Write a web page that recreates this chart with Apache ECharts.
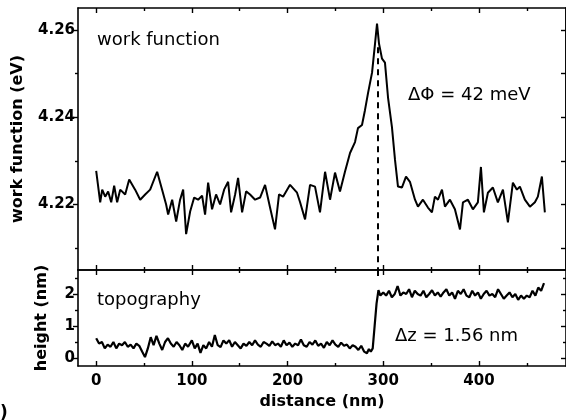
<!DOCTYPE html>
<html>
<head>
<meta charset="utf-8">
<script src="https://cdn.jsdelivr.net/npm/echarts@6/dist/echarts.min.js"></script>
<style>
  html, body { margin: 0; padding: 0; background: #fff; }
  #chart { width: 566px; height: 420px; }
</style>
</head>
<body>
<div id="chart"></div>
<script>
// work function profile (distance in nm, value in eV)
const wfDistance = [0, 4.2, 6.3, 9.4, 12.5, 15.7, 18.8, 21.9, 25.1, 30.3, 34.5, 40.7, 46, 51.2, 56.4, 63.7, 68.9, 73.1, 75.2, 79.4,
  83.6, 87.7, 90.9, 94, 98.2, 102.4, 106.5, 110.7, 113.8, 117, 121.1, 125.3, 129.5, 133.7, 137.9, 141, 145.2, 148.3, 152.5, 156.7,
  160.8, 166.1, 171.3, 176.5, 181.7, 186.9, 191.1, 195.3, 202.6, 209.9, 213.1, 218.3, 223.5, 228.7, 233.9, 239.2, 244.4, 249.6,
  254.8, 260, 265.3, 270.5, 273.6, 277.8, 280.9, 284.1, 288.3, 291.4, 293.5, 295.6, 298.7, 301.8, 305, 309.1, 312.3, 315.4, 319.6,
  323.8, 327.9, 333.2, 336.3, 341.5, 346.7, 350.9, 354, 357.2, 361.4, 364.5, 369.7, 374.9, 380.2, 383.3, 388.5, 393.7, 398.9,
  402.1, 405.2, 409.4, 414.6, 419.8, 425.1, 430.3, 435.5, 439.7, 442.8, 448, 453.3, 458.5, 461.6, 465.8, 468.9];
const workFunction = [4.2277, 4.2205, 4.2234, 4.2218, 4.2230, 4.2205, 4.2243, 4.2205, 4.2234, 4.2223, 4.2257, 4.2234, 4.2211, 4.2223,
  4.2234, 4.2275, 4.2234, 4.2200, 4.2177, 4.2211, 4.2161, 4.2211, 4.2234, 4.2132, 4.2184, 4.2216, 4.2211, 4.2220, 4.2177, 4.2250,
  4.2189, 4.2223, 4.2200, 4.2234, 4.2252, 4.2182, 4.2223, 4.2261, 4.2182, 4.2230, 4.2223, 4.2211, 4.2216, 4.2245, 4.2193, 4.2143,
  4.2223, 4.2218, 4.2245, 4.2227, 4.2205, 4.2166, 4.2245, 4.2241, 4.2182, 4.2275, 4.2211, 4.2273, 4.2230, 4.2275, 4.2318, 4.2343,
  4.2375, 4.2382, 4.2416, 4.2455, 4.2502, 4.2568, 4.2614, 4.2568, 4.2534, 4.2525, 4.2445, 4.2377, 4.2302, 4.2241, 4.2239, 4.2264,
  4.2252, 4.2211, 4.2195, 4.2211, 4.2193, 4.2182, 4.2218, 4.2211, 4.2234, 4.2195, 4.2211, 4.2189, 4.2143, 4.2205, 4.2211, 4.2189,
  4.2205, 4.2286, 4.2182, 4.2227, 4.2239, 4.2205, 4.2234, 4.2159, 4.2250, 4.2234, 4.2241, 4.2211, 4.2195, 4.2205, 4.2218, 4.2264,
  4.2182];

// topography profile (distance in nm, height in nm)
const topoDistance = [0, 3, 6, 9, 12, 15, 18, 21, 24, 27, 30, 33, 36, 39, 42, 45, 48, 51, 54, 57, 60, 63, 66, 69, 72, 75, 78, 81,
  84, 87, 90, 93, 96, 100, 103, 106, 109, 112, 115, 118, 121, 124, 127, 130, 133, 136, 139, 142, 145, 148, 151, 154, 157, 160,
  163, 166, 169, 172, 175, 178, 181, 184, 187, 190, 193, 196, 199, 202, 205, 208, 211, 214, 217, 220, 223, 226, 229, 232, 235,
  238, 241, 244, 247, 250, 253, 256, 259, 262, 265, 268, 271, 274, 277, 280, 283, 285, 287, 289, 291, 293, 295, 297, 300, 303,
  306, 309, 312, 315, 318, 321, 324, 327, 330, 333, 336, 339, 342, 345, 348, 351, 354, 357, 360, 363, 366, 369, 372, 375, 378,
  381, 384, 387, 390, 393, 396, 399, 402, 405, 408, 411, 414, 417, 420, 423, 426, 429, 432, 435, 438, 441, 444, 447, 450, 453,
  456, 459, 462, 465, 468];
const height = [0.62, 0.45, 0.5, 0.3, 0.42, 0.35, 0.5, 0.3, 0.45, 0.4, 0.5, 0.35, 0.42, 0.3, 0.45, 0.38, 0.2, 0.03, 0.3, 0.65,
  0.4, 0.69, 0.45, 0.25, 0.5, 0.62, 0.45, 0.35, 0.5, 0.4, 0.25, 0.45, 0.35, 0.55, 0.3, 0.45, 0.16, 0.4, 0.3, 0.5, 0.35, 0.72,
  0.4, 0.34, 0.55, 0.45, 0.56, 0.35, 0.5, 0.4, 0.3, 0.45, 0.38, 0.5, 0.4, 0.55, 0.42, 0.35, 0.5, 0.45, 0.38, 0.52, 0.4, 0.45,
  0.35, 0.55, 0.4, 0.48, 0.35, 0.45, 0.4, 0.58, 0.4, 0.35, 0.5, 0.42, 0.55, 0.38, 0.45, 0.32, 0.5, 0.4, 0.55, 0.42, 0.35, 0.48,
  0.38, 0.42, 0.3, 0.4, 0.35, 0.25, 0.38, 0.2, 0.15, 0.28, 0.2, 0.3, 1.0, 1.7, 2.12, 1.95, 2.05, 1.95, 2.1, 1.9, 2.0, 2.25, 1.95,
  2.05, 2.0, 2.15, 1.9, 2.1, 2.0, 1.95, 2.1, 1.9, 2.0, 2.12, 1.95, 2.05, 1.92, 2.05, 2.15, 1.95, 2.05, 1.85, 2.1, 2.0, 2.15, 1.95,
  1.9, 2.1, 1.95, 2.05, 1.85, 2.0, 2.1, 1.95, 2.0, 1.9, 2.15, 2.0, 1.85, 1.95, 2.05, 1.9, 2.0, 1.82, 1.95, 1.85, 1.95, 1.9, 2.1,
  1.95, 2.2, 2.1, 2.34, 2.2];

// tick labels
const xMajor = [0, 100, 200, 300, 400];
const xMinor = [50, 150, 250, 350, 450];
const wfMajor = [4.22, 4.24, 4.26];
const wfMinor = [4.21, 4.23, 4.25];
const hMajor = [0, 1, 2];
const hMinor = [0.5, 1.5, 2.5];
const stepPosition = 294.5;

const FONT = 'DejaVu Sans';
const lineCol = '#000';

function xAx(grid, pos, ticks, len, withLabels) {
  const ax = {
    type: 'value', gridIndex: grid, position: pos, min: -19, max: 491,
    axisLine: { show: len > 3, onZero: false, lineStyle: { color: lineCol, width: 1.6 } },
    axisTick: { show: true, inside: true, length: len, customValues: ticks, lineStyle: { color: lineCol, width: 1.4 } },
    axisLabel: { show: false },
    splitLine: { show: false }
  };
  if (withLabels) {
    ax.axisLabel = { show: true, customValues: ticks, margin: 8, color: '#000', fontFamily: FONT, fontWeight: 'bold', fontSize: 15 };
    ax.name = 'distance (nm)';
    ax.nameLocation = 'middle';
    ax.nameGap = 28;
    ax.nameTextStyle = { color: '#000', fontFamily: FONT, fontWeight: 'bold', fontSize: 16 };
  }
  return ax;
}

function yAx(grid, pos, min, max, ticks, len, label) {
  const ax = {
    type: 'value', gridIndex: grid, position: pos, min: min, max: max,
    axisLine: { show: len > 3, onZero: false, lineStyle: { color: lineCol, width: 1.6 } },
    axisTick: { show: true, inside: pos === 'right', length: len, customValues: ticks, lineStyle: { color: lineCol, width: 1.4 } },
    axisLabel: { show: false },
    splitLine: { show: false }
  };
  if (label) {
    ax.axisLabel = {
      show: true, customValues: ticks, margin: 3, color: '#000', fontFamily: FONT, fontWeight: 'bold', fontSize: 15,
      formatter: label.fmt
    };
    ax.name = label.name;
    ax.nameLocation = 'middle';
    ax.nameGap = label.gap;
    ax.nameTextStyle = { color: '#000', fontFamily: FONT, fontWeight: 'bold', fontSize: 16 };
  }
  return ax;
}

const chart = echarts.init(document.getElementById('chart'), null, { renderer: 'canvas' });

const annot = (text, x, y) => ({
  type: 'text', left: x, top: y,
  style: { text: text, fill: '#000', font: '18px "DejaVu Sans"', textVerticalAlign: 'middle' }
});

chart.setOption({
  animation: false,
  backgroundColor: '#fff',
  grid: [
    { left: 78, top: 8, right: 0, height: 262 },
    { left: 78, top: 270, right: 0, height: 96 }
  ],
  xAxis: [
    xAx(0, 'bottom', xMajor, 5, false), xAx(0, 'bottom', xMinor, 3, false),
    xAx(0, 'top', xMajor, 5, false), xAx(0, 'top', xMinor, 3, false),
    xAx(1, 'bottom', xMajor, 5, true), xAx(1, 'bottom', xMinor, 3, false),
    xAx(1, 'top', xMajor, 5, false), xAx(1, 'top', xMinor, 3, false)
  ],
  yAxis: [
    yAx(0, 'left', 4.205, 4.265, wfMajor, 5, { name: 'work function (eV)', gap: 52, fmt: v => v.toFixed(2) }),
    yAx(0, 'left', 4.205, 4.265, wfMinor, 3, null),
    yAx(0, 'right', 4.205, 4.265, wfMajor, 5, null),
    yAx(0, 'right', 4.205, 4.265, wfMinor, 5, null),
    yAx(1, 'left', -0.25, 2.75, hMajor, 5, { name: 'height (nm)', gap: 28, fmt: v => String(v) }),
    yAx(1, 'left', -0.25, 2.75, hMinor, 3, null),
    yAx(1, 'right', -0.25, 2.75, hMajor, 5, null),
    yAx(1, 'right', -0.25, 2.75, hMinor, 3, null)
  ],
  series: [
    {
      type: 'line', xAxisIndex: 0, yAxisIndex: 0, symbol: 'none',
      data: wfDistance.map((d, i) => [d, workFunction[i]]),
      lineStyle: { color: lineCol, width: 2 },
      markLine: {
        silent: true, symbol: 'none', label: { show: false },
        lineStyle: { color: lineCol, width: 2, type: [6, 5] },
        data: [[{ coord: [stepPosition, 4.256] }, { coord: [stepPosition, 4.205] }]]
      }
    },
    {
      type: 'line', xAxisIndex: 4, yAxisIndex: 4, symbol: 'none',
      data: topoDistance.map((d, i) => [d, height[i]]),
      lineStyle: { color: lineCol, width: 2.2 },
      markLine: {
        silent: true, symbol: 'none', label: { show: false },
        lineStyle: { color: lineCol, width: 2, type: [6, 5] },
        data: [[{ coord: [stepPosition, 2.75] }, { coord: [stepPosition, 2.53] }]]
      }
    }
  ],
  graphic: [
    annot('work function', 97, 31),
    annot('ΔΦ = 42 meV', 408, 86),
    annot('topography', 97, 291),
    annot('Δz = 1.56 nm', 395, 327),
    { type: 'text', left: 0, top: 405, style: { text: ')', fill: '#000', font: 'bold 17px "DejaVu Sans"', textVerticalAlign: 'middle' } }
  ]
});
</script>
</body>
</html>
